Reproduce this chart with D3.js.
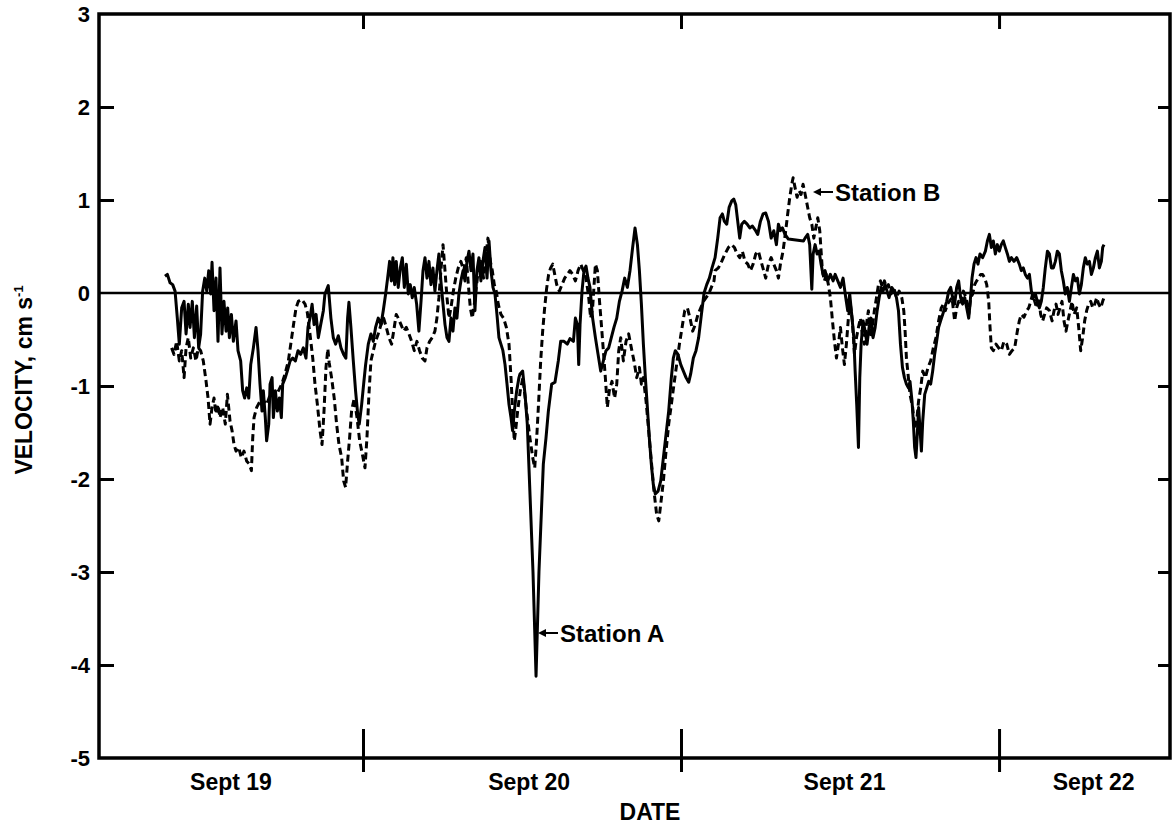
<!DOCTYPE html>
<html><head><meta charset="utf-8">
<script src="https://cdn.jsdelivr.net/npm/d3@7"></script>
<style>
body{margin:0;background:#fff}
svg{display:block}
text{font-family:"Liberation Sans",Arial,Helvetica,sans-serif;font-weight:bold;fill:#000}
</style>
</head><body>
<svg id="chart" width="1173" height="828"></svg>
<script>
// ---- DATA (hours since Sept 19 00:00, velocity cm/s) ----
const stationA = [
[9.06,0.18],[9.24,0.20],[9.44,0.11],[9.64,0.09],[9.82,0.02],[9.99,-0.27],[10.14,-0.55],[10.32,-0.16],[10.50,-0.09],[10.65,-0.44],[10.82,-0.12],[10.95,-0.37],[11.12,-0.09],[11.28,-0.48],[11.45,-0.14],[11.60,-0.59],[11.75,-0.44],[11.90,0.02],[12.06,0.16],[12.21,0.02],[12.36,0.24],[12.51,-0.01],[12.61,0.33],[12.76,-0.19],[12.91,0.16],[13.06,-0.52],[13.21,0.27],[13.36,-0.44],[13.51,-0.09],[13.67,-0.41],[13.79,-0.16],[13.92,-0.48],[14.07,-0.23],[14.22,-0.52],[14.42,-0.30],[14.57,-0.62],[14.77,-0.73],[14.92,-1.05],[15.07,-1.13],[15.23,-1.02],[15.38,-1.13],[15.53,-0.77],[15.73,-0.59],[15.93,-0.37],[16.08,-0.62],[16.23,-0.98],[16.38,-1.27],[16.48,-1.05],[16.63,-1.34],[16.73,-1.59],[16.89,-1.41],[16.99,-0.98],[17.14,-0.91],[17.24,-1.34],[17.39,-1.05],[17.54,-1.27],[17.69,-1.13],[17.84,-1.34],[17.94,-0.98],[18.14,-0.91],[18.29,-0.84],[18.50,-0.73],[18.70,-0.70],[18.90,-0.73],[19.10,-0.62],[19.30,-0.66],[19.50,-0.59],[19.70,-0.70],[19.85,-0.37],[20.00,-0.27],[20.16,-0.12],[20.31,-0.34],[20.46,-0.23],[20.63,-0.48],[20.81,-0.34],[21.01,-0.19],
[21.13,-0.01],[21.38,0.08],[21.58,-0.27],[21.76,-0.48],[21.94,-0.55],[22.14,-0.46],[22.34,-0.59],[22.54,-0.66],[22.71,-0.70],[22.84,-0.27],[22.94,-0.10],[23.09,-0.37],[23.27,-0.73],[23.44,-1.05],[23.60,-1.30],[23.72,-1.41],[23.90,-1.20],[24.05,-0.98],[24.20,-0.77],[24.40,-0.55],[24.60,-0.44],[24.78,-0.52],[24.95,-0.37],[25.15,-0.27],[25.36,-0.34],[25.53,-0.19],[25.71,-0.01],[25.86,0.16],[26.01,0.34],[26.14,0.13],[26.26,0.38],[26.39,0.09],[26.51,0.34],[26.66,0.06],[26.82,0.27],[26.97,0.38],[27.12,0.06],[27.27,0.31],[27.42,-0.01],[27.57,0.09],[27.72,-0.05],[27.87,0.06],[28.05,-0.12],[28.22,-0.41],[28.38,-0.09],[28.53,0.24],[28.68,0.38],[28.83,0.16],[28.98,0.34],[29.13,0.09],[29.28,0.27],[29.43,0.02],[29.58,0.24],[29.73,0.42],[29.88,0.13],[30.04,-0.12],[30.19,-0.34],[30.34,-0.48],[30.49,-0.52],[30.64,-0.27],[30.79,-0.41],[30.94,-0.16],[31.09,-0.27],[31.24,-0.01],[31.39,0.13],[31.55,0.24],[31.70,0.13],[31.85,0.34],[32.00,0.45],[32.15,0.24],[32.30,0.42],[32.45,-0.19],[32.60,0.24],[32.75,0.38],[32.90,0.13],[33.05,0.34],[33.21,0.49],[33.36,0.16],[33.51,0.56],[33.66,0.24],[33.81,0.06],[33.96,-0.01],[34.11,-0.23],[34.26,-0.48],[34.41,-0.55],[34.56,-0.62],[34.72,-0.77],[34.87,-0.98],[35.02,-1.20],[35.17,-1.34],[35.29,-1.48],[35.42,-1.27],[35.60,-1.05],[35.77,-0.91],
[35.85,-0.87],[36.05,-0.84],[36.23,-1.09],[36.40,-1.41],[36.83,-3.00],[37.06,-4.12],[37.28,-3.00],[37.61,-1.84],[37.81,-1.56],[37.99,-1.27],[38.24,-0.98],[38.49,-0.96],[38.74,-0.73],[38.92,-0.52],[39.17,-0.52],[39.42,-0.55],[39.62,-0.49],[39.88,-0.52],[40.03,-0.27],[40.18,-0.34],[40.28,-0.77],[40.38,-0.34],[40.53,0.02],[40.68,0.24],[40.83,0.29],[40.98,0.16],[41.13,0.06],[41.33,-0.27],[41.54,-0.48],[41.74,-0.66],[41.94,-0.84],[42.14,-0.73],[42.34,-0.62],[42.54,-0.59],[42.74,-0.48],[42.94,-0.37],[43.15,-0.27],[43.35,-0.09],[43.55,0.02],[43.75,0.16],[43.95,0.06],[44.15,0.24],[44.35,0.49],[44.53,0.70],[44.71,0.52],[44.86,0.24],[45.01,-0.12],[45.16,-0.55],[45.31,-0.91],[45.46,-1.23],[45.61,-1.56],[45.76,-1.84],[45.91,-2.06],[46.06,-2.16],[46.27,-2.13],[46.47,-2.02],[46.67,-1.77],[46.87,-1.52],[47.07,-1.27],[47.27,-0.91],[47.42,-0.70],[47.57,-0.62],[47.77,-0.66],[47.98,-0.77],[48.18,-0.84],[48.38,-0.91],[48.58,-0.96],[48.73,-0.87],[48.93,-0.70],[49.13,-0.62],[49.33,-0.48],[49.54,-0.23],[49.74,0.00],[49.94,0.09],[50.14,0.16],[50.34,0.27],
[50.57,0.38],[50.77,0.59],[50.95,0.81],[51.12,0.85],[51.27,0.77],[51.45,0.74],[51.63,0.92],[51.83,0.99],[51.98,1.01],[52.13,0.95],[52.28,0.77],[52.43,0.59],[52.58,0.74],[52.78,0.77],[52.99,0.74],[53.19,0.70],[53.39,0.72],[53.59,0.68],[53.79,0.63],[53.99,0.77],[54.19,0.85],[54.39,0.86],[54.60,0.77],[54.80,0.59],[55.00,0.67],[55.20,0.52],[55.35,0.74],[55.50,0.67],[55.65,0.70],[55.85,0.63],[56.10,0.58],[57.24,0.56],[57.36,0.59],[57.56,0.63],[57.71,0.52],[57.87,0.04],[57.97,0.42],[58.12,0.52],[58.27,0.42],[58.42,0.45],[58.57,0.31],[58.72,0.20],[58.87,0.24],[59.07,0.13],[59.27,0.20],[59.48,0.13],[59.63,0.20],[59.83,0.13],[60.03,0.06],[60.23,0.16],[60.43,-0.05],[60.58,-0.19],[60.73,-0.01],[60.88,-0.23],[61.04,-0.48],[61.14,-0.84],[61.26,-1.20],[61.39,-1.66],[61.49,-0.91],[61.59,-0.55],[61.74,-0.30],[61.89,-0.41],[62.04,-0.55],[62.19,-0.37],[62.34,-0.27],[62.49,-0.48],[62.65,-0.37],[62.80,-0.19],[62.95,-0.05],[63.10,0.06],[63.25,0.02],[63.40,0.09],[63.55,0.02],[63.70,-0.05],[63.90,0.06],[64.10,0.02],[64.26,-0.05],[64.41,-0.19],[64.56,-0.55],[64.71,-0.80],[64.86,-0.91],[65.01,-0.98],[65.16,-1.02],
[65.28,-0.95],[65.43,-1.16],[65.53,-1.38],[65.63,-1.66],[65.73,-1.77],[65.83,-1.52],[65.93,-1.23],[66.03,-1.45],[66.14,-1.70],[66.24,-1.38],[66.39,-1.09],[66.54,-1.02],[66.69,-0.95],[66.84,-0.98],[66.99,-0.84],[67.14,-0.66],[67.29,-0.52],[67.44,-0.37],[67.59,-0.30],[67.75,-0.23],[67.90,-0.16],[68.05,-0.09],[68.20,0.02],[68.35,0.06],[68.50,-0.05],[68.65,-0.12],[68.80,0.06],[68.95,0.13],[69.10,-0.05],[69.25,-0.12],[69.41,-0.05],[69.56,-0.16],[69.71,-0.27],[69.81,-0.12],[69.96,0.16],[70.11,0.31],[70.26,0.38],[70.41,0.31],[70.56,0.42],[70.76,0.38],[70.97,0.45],[71.12,0.56],[71.27,0.63],[71.42,0.49],[71.57,0.56],[71.72,0.42],[71.87,0.52],[72.02,0.45],[72.17,0.52],[72.32,0.56],[72.47,0.49],[72.63,0.42],[72.78,0.34],[72.93,0.38],[73.13,0.34],[73.33,0.38],[73.53,0.31],[73.68,0.24],[73.83,0.27],[73.98,0.20],[74.14,0.16],[74.29,0.20],[74.44,0.02],[74.59,-0.05],[74.74,-0.01],[74.89,-0.09],[75.04,-0.16],[75.19,-0.09],[75.34,0.06],[75.49,0.27],[75.65,0.45],[75.80,0.42],[75.95,0.27],[76.10,0.27],[76.25,0.34],[76.40,0.45],[76.55,0.42],[76.70,0.24],[76.85,0.13],[77.00,-0.01],[77.15,0.06],[77.31,-0.09],[77.46,0.06],[77.61,0.20],[77.76,0.13],[77.91,0.16],[78.06,-0.01],[78.21,0.09],[78.36,0.27],[78.51,0.38],[78.66,0.31],[78.82,0.34],[78.97,0.20],[79.12,0.27],[79.27,0.38],[79.42,0.45],[79.57,0.27],[79.72,0.34],[79.82,0.49],[79.92,0.52]
];

const stationB = [
[9.56,-0.59],[9.74,-0.66],[9.94,-0.52],[10.14,-0.73],[10.32,-0.62],[10.50,-0.91],[10.65,-0.59],[10.82,-0.48],[11.00,-0.70],[11.20,-0.59],[11.40,-0.73],[11.58,-0.59],[11.75,-0.62],[11.95,-0.73],[12.16,-0.95],[12.31,-1.13],[12.46,-1.41],[12.61,-1.23],[12.76,-1.13],[12.91,-1.30],[13.06,-1.20],[13.21,-1.34],[13.41,-1.23],[13.61,-1.41],[13.77,-1.09],[13.97,-1.38],[14.12,-1.48],[14.27,-1.63],[14.42,-1.70],[14.62,-1.66],[14.82,-1.77],[15.02,-1.70],[15.23,-1.81],[15.43,-1.84],[15.58,-1.91],[15.68,-1.56],[15.78,-1.34],[15.98,-1.23],[16.36,-1.13],[16.73,-1.20],[17.11,-1.05],[17.49,-1.09],[17.87,-0.98],[18.12,-0.87],[18.37,-0.73],[18.62,-0.48],[18.80,-0.30],[18.95,-0.16],[19.12,-0.09],[19.38,-0.07],[19.63,-0.12],[19.80,-0.21],[20.00,-0.44],[20.21,-0.70],[20.38,-0.98],[20.56,-1.20],[20.76,-1.48],[20.91,-1.63],[21.06,-1.27],[21.21,-0.80],[21.35,-0.60],[21.45,-0.75],
[21.63,-0.91],[21.83,-1.13],[22.01,-1.41],[22.19,-1.63],[22.39,-1.77],[22.54,-2.02],[22.69,-2.09],[22.84,-1.81],[22.99,-1.56],[23.14,-1.27],[23.34,-1.13],[23.55,-1.34],[23.75,-1.59],[23.95,-1.73],[24.15,-1.88],[24.30,-1.56],[24.45,-1.09],[24.60,-0.73],[24.78,-0.62],[24.95,-0.52],[25.15,-0.44],[25.36,-0.34],[25.56,-0.27],[25.76,-0.37],[25.96,-0.48],[26.16,-0.55],[26.36,-0.37],[26.51,-0.23],[26.66,-0.27],[26.87,-0.34],[27.07,-0.41],[27.27,-0.37],[27.47,-0.44],[27.67,-0.52],[27.87,-0.62],[28.07,-0.52],[28.27,-0.62],[28.48,-0.70],[28.68,-0.73],[28.83,-0.59],[29.03,-0.52],[29.23,-0.48],[29.43,-0.41],[29.58,-0.27],[29.73,-0.05],[29.88,0.24],[30.04,0.52],[30.19,0.24],[30.34,-0.05],[30.49,-0.27],[30.64,-0.16],[30.82,0.02],[31.00,0.16],[31.19,0.27],[31.39,0.34],[31.60,0.24],[31.80,0.38],[31.95,0.09],[32.10,-0.16],[32.25,-0.27],[32.40,-0.12],[32.55,0.06],[32.70,0.24],[32.90,0.34],[33.10,0.16],[33.26,0.38],[33.43,0.59],[33.61,0.34],[33.76,0.24],[33.91,0.09],[34.06,0.02],[34.21,-0.12],[34.41,-0.23],[34.61,-0.27],[34.82,-0.37],[35.02,-0.55],[35.17,-0.91],[35.32,-1.34],[35.42,-1.59],[35.52,-1.48],[35.67,-1.27],[35.87,-1.05],[36.07,-0.91],
[36.35,-1.27],[36.60,-1.56],[36.81,-1.77],[36.96,-1.88],[37.11,-1.56],[37.26,-1.16],[37.41,-0.73],[37.56,-0.41],[37.71,-0.16],[37.86,0.05],[38.01,0.20],[38.16,0.27],[38.32,0.31],[38.47,0.20],[38.62,0.09],[38.82,0.02],[39.02,0.09],[39.22,0.16],[39.42,0.20],[39.62,0.24],[39.82,0.20],[40.03,0.13],[40.23,0.24],[40.43,0.31],[40.63,0.24],[40.83,0.16],[41.03,-0.04],[41.18,-0.27],[41.33,-0.16],[41.54,0.31],[41.69,0.24],[41.84,-0.07],[41.99,-0.34],[42.14,-0.62],[42.29,-0.91],[42.44,-1.23],[42.59,-1.05],[42.79,-0.95],[42.99,-1.13],[43.15,-0.98],[43.30,-0.62],[43.45,-0.48],[43.65,-0.73],[43.85,-0.52],[44.05,-0.44],[44.25,-0.59],[44.45,-0.73],[44.66,-0.91],[44.86,-0.80],[45.01,-0.98],[45.16,-0.91],[45.36,-1.16],[45.56,-1.48],[45.76,-1.81],[45.96,-2.13],[46.16,-2.38],[46.32,-2.45],[46.47,-2.27],[46.67,-2.02],[46.87,-1.70],[47.07,-1.41],[47.27,-1.20],[47.47,-0.98],[47.67,-0.77],[47.88,-0.55],[48.08,-0.37],[48.28,-0.19],[48.48,-0.16],[48.68,-0.27],[48.88,-0.41],[49.08,-0.34],[49.28,-0.23],[49.49,-0.16],[49.69,-0.09],[49.89,-0.05],[50.09,-0.01],[50.29,0.06],[50.49,0.13],
[50.57,0.24],[50.82,0.27],[51.07,0.34],[51.32,0.42],[51.58,0.49],[51.83,0.52],[52.03,0.49],[52.23,0.42],[52.43,0.38],[52.63,0.45],[52.83,0.34],[53.04,0.31],[53.24,0.24],[53.44,0.31],[53.64,0.42],[53.84,0.45],[54.04,0.34],[54.24,0.24],[54.39,0.16],[54.60,0.31],[54.80,0.38],[55.00,0.31],[55.20,0.24],[55.35,0.16],[55.50,0.31],[55.70,0.45],[55.90,0.67],[56.05,0.85],[56.21,1.03],[56.36,1.17],[56.46,1.24],[56.61,1.13],[56.76,1.03],[56.91,1.10],[57.06,1.06],[57.21,1.17],[57.31,1.10],[57.41,1.03],[57.56,0.92],[57.71,0.81],[57.87,0.74],[58.02,0.59],[58.17,0.70],[58.32,0.81],[58.47,0.67],[58.57,0.45],[58.67,0.24],[58.82,0.13],[58.97,0.20],[59.12,0.09],[59.27,-0.05],[59.43,-0.30],[59.58,-0.52],[59.73,-0.70],[59.88,-0.55],[60.03,-0.37],[60.18,-0.59],[60.33,-0.77],[60.48,-0.55],[60.63,-0.27],[60.78,-0.12],[60.93,-0.30],[61.09,-0.66],[61.24,-0.48],[61.39,-0.37],[61.54,-0.27],[61.69,-0.45],[61.84,-0.55],[61.99,-0.34],[62.14,-0.19],[62.29,-0.48],[62.44,-0.37],[62.59,-0.19],[62.75,-0.05],[62.90,0.09],[63.05,0.13],[63.20,0.06],[63.35,0.13],[63.50,0.06],[63.65,0.09],[63.85,-0.01],[64.05,0.06],[64.26,-0.05],[64.46,0.02],[64.66,-0.05],[64.81,-0.19],[64.91,-0.41],[65.01,-0.70],[65.11,-0.84],
[65.28,-1.09],[65.48,-1.23],[65.63,-1.45],[65.78,-1.38],[65.93,-1.16],[66.09,-1.02],[66.24,-0.84],[66.44,-0.91],[66.64,-0.80],[66.84,-0.73],[67.04,-0.59],[67.24,-0.48],[67.44,-0.30],[67.64,-0.16],[67.80,-0.12],[67.95,-0.19],[68.10,-0.12],[68.25,-0.09],[68.45,-0.05],[68.65,-0.30],[68.80,-0.16],[68.95,-0.09],[69.10,-0.12],[69.31,0.02],[69.51,-0.05],[69.71,-0.23],[69.86,-0.05],[70.01,-0.01],[70.16,0.09],[70.31,0.13],[70.46,0.16],[70.61,0.20],[70.76,0.20],[70.92,0.16],[71.07,0.09],[71.22,-0.09],[71.32,-0.37],[71.42,-0.59],[71.57,-0.62],[71.77,-0.55],[71.97,-0.59],[72.17,-0.62],[72.37,-0.52],[72.58,-0.55],[72.78,-0.66],[72.98,-0.62],[73.18,-0.59],[73.38,-0.41],[73.53,-0.30],[73.68,-0.23],[73.88,-0.26],[74.09,-0.19],[74.24,-0.16],[74.39,-0.09],[74.54,-0.01],[74.69,-0.09],[74.84,-0.16],[74.99,-0.05],[75.14,-0.23],[75.29,-0.30],[75.44,-0.23],[75.59,-0.16],[75.80,-0.19],[76.00,-0.30],[76.15,-0.19],[76.30,-0.12],[76.45,-0.23],[76.60,-0.16],[76.75,-0.09],[76.90,-0.30],[77.05,-0.41],[77.20,-0.30],[77.36,-0.19],[77.51,-0.09],[77.66,-0.23],[77.86,-0.16],[78.01,-0.37],[78.16,-0.62],[78.31,-0.48],[78.46,-0.30],[78.61,-0.19],[78.76,-0.12],[78.92,-0.09],[79.07,-0.16],[79.22,-0.12],[79.37,-0.05],[79.52,-0.12],[79.67,-0.16],[79.82,-0.09],[79.92,-0.05]
];

const dayTicks = [24, 48, 72];                 // midnight boundaries (hours)
const dayLabels = ["Sept 19", "Sept 20", "Sept 21", "Sept 22"];
const dayLabelHours = [14.0, 36.5, 60.3, 79.1];
const yTicks = [3, 2, 1, 0, -1, -2, -3, -4, -5];
const annotations = [
  {label: "Station A", h: 37.21, v: -3.656},
  {label: "Station B", h: 57.96, v: 1.086}
];

// ---- CHART ----
const svg = d3.select("#chart");
const L = 99, R = 1170, T = 14, B = 758;
const x = d3.scaleLinear().domain([4.08, 84.9]).range([L, R]);
const y = d3.scaleLinear().domain([-5, 3]).range([B, T]);
const ink = "#000";

// zero line
svg.append("line").attr("x1", L).attr("x2", R).attr("y1", y(0)).attr("y2", y(0))
  .attr("stroke", ink).attr("stroke-width", 2.6);

// series
const line = d3.line().x(d => x(d[0])).y(d => y(d[1]));
svg.append("path").datum(stationB).attr("d", line).attr("fill", "none")
  .attr("stroke", ink).attr("stroke-width", 3).attr("stroke-dasharray", "7,4")
  .attr("stroke-linejoin", "round");
svg.append("path").datum(stationA).attr("d", line).attr("fill", "none")
  .attr("stroke", ink).attr("stroke-width", 3).attr("stroke-linejoin", "round");

// frame
svg.append("rect").attr("x", L).attr("y", T).attr("width", R - L).attr("height", B - T)
  .attr("fill", "none").attr("stroke", ink).attr("stroke-width", 3.5);

function clean(g){ g.select(".domain").remove(); g.selectAll("line").attr("stroke", ink).attr("stroke-width", 3); }

// left axis
svg.append("g").attr("transform", `translate(${L},0)`)
  .call(d3.axisLeft(y).tickValues(yTicks).tickSizeInner(-15).tickSizeOuter(0).tickPadding(9).tickFormat(d => String(d)))
  .call(clean)
  .call(g => g.selectAll("line").filter(d => d === 3 || d === -5 || d === 0).remove())
  .call(g => g.selectAll("text").attr("font-size", 22).attr("font-family", null).attr("fill", ink));

// right axis ticks
svg.append("g").attr("transform", `translate(${R},0)`)
  .call(d3.axisRight(y).tickValues(yTicks.filter(d => d < 3 && d > -5 && d !== 0)).tickSizeInner(-12).tickSizeOuter(0).tickFormat(""))
  .call(clean);

// top axis ticks (inward)
svg.append("g").attr("transform", `translate(0,${T})`)
  .call(d3.axisBottom(x).tickValues(dayTicks).tickSize(15).tickSizeOuter(0).tickFormat(""))
  .call(clean);

// bottom axis ticks crossing the axis
svg.append("g").attr("transform", `translate(0,${B})`)
  .call(d3.axisBottom(x).tickValues(dayTicks).tickSize(14).tickSizeOuter(0).tickFormat(""))
  .call(clean);
svg.append("g").attr("transform", `translate(0,${B})`)
  .call(d3.axisTop(x).tickValues(dayTicks).tickSize(29).tickSizeOuter(0).tickFormat(""))
  .call(clean);

// day labels
svg.append("g").attr("transform", `translate(0,${B})`)
  .call(d3.axisBottom(x).tickValues(dayLabelHours).tickSize(0).tickPadding(16)
        .tickFormat((d, i) => dayLabels[i]))
  .call(g => g.select(".domain").remove())
  .call(g => g.selectAll("text").attr("font-size", 23).attr("font-family", null).attr("fill", ink));

// axis titles
svg.append("text").attr("x", 650).attr("y", 820).attr("text-anchor", "middle")
  .attr("font-size", 23).text("DATE");
const yt = svg.append("text").attr("transform", "translate(32,380) rotate(-90)")
  .attr("text-anchor", "middle").attr("font-size", 23);
yt.append("tspan").text("VELOCITY, cm s");
yt.append("tspan").attr("font-size", 13).attr("dy", -9).text("-1");

// annotations
annotations.forEach(a => {
  const ax = x(a.h), ay = y(a.v);
  svg.append("line").attr("x1", ax + 6).attr("x2", ax + 20).attr("y1", ay).attr("y2", ay)
    .attr("stroke", ink).attr("stroke-width", 2);
  svg.append("path").attr("d", `M${ax},${ay}L${ax + 8},${ay - 4}L${ax + 8},${ay + 4}Z`).attr("fill", ink);
  svg.append("text").attr("x", ax + 22).attr("y", ay).attr("dy", "0.36em")
    .attr("font-size", 24).text(a.label);
});
</script>
</body></html>
